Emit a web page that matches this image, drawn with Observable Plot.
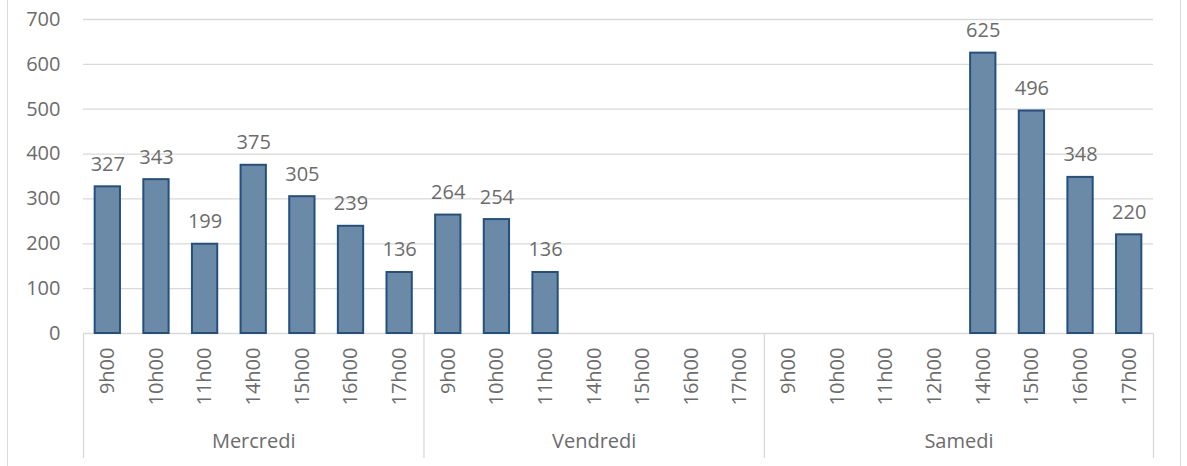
<!DOCTYPE html>
<html>
<head>
<meta charset="utf-8">
<script src="https://cdn.jsdelivr.net/npm/d3@7"></script>
<script src="https://cdn.jsdelivr.net/npm/@observablehq/plot@0.6"></script>
<style>
  html, body { margin: 0; padding: 0; background: #fff; }
  #frame { position: relative; width: 1187px; height: 466px; overflow: hidden; }
  #frame .edge { position: absolute; top: 0; bottom: 0; width: 0; border-left: 1px solid #d9d9d9; }
  #frame svg { position: absolute; left: 0; top: 0; overflow: visible; }
</style>
</head>
<body>
<div id="frame">
  <div class="edge" style="left:7px"></div>
  <div class="edge" style="left:1180px"></div>
</div>
<script>
// ---- data ----
const days = ["Mercredi", "Vendredi", "Samedi"];
const hoursMercredi = ["9h00", "10h00", "11h00", "14h00", "15h00", "16h00", "17h00"];
const valuesMercredi = [327, 343, 199, 375, 305, 239, 136];
const hoursVendredi = ["9h00", "10h00", "11h00", "14h00", "15h00", "16h00", "17h00"];
const valuesVendredi = [264, 254, 136, null, null, null, null];
const hoursSamedi = ["9h00", "10h00", "11h00", "12h00", "14h00", "15h00", "16h00", "17h00"];
const valuesSamedi = [null, null, null, null, 625, 496, 348, 220];
const yTicks = [0, 100, 200, 300, 400, 500, 600, 700];

// ---- build table ----
const hoursByDay = [hoursMercredi, hoursVendredi, hoursSamedi];
const valuesByDay = [valuesMercredi, valuesVendredi, valuesSamedi];
const rows = [];
days.forEach((day, di) => {
  hoursByDay[di].forEach((h, hi) => {
    rows.push({ key: day + "|" + h, day, hour: h, value: valuesByDay[di][hi] });
  });
});
const keys = rows.map(d => d.key);
const withValue = rows.filter(d => d.value != null);

// ---- layout ----
const W = 1187, H = 466;
const mL = 83, mR = 34, mT = 19, mB = 133;
const step = (W - mL - mR) / keys.length;
const grey = "#d9d9d9";
const txt = "#6c6c6c";
const font = "'Open Sans', 'Noto Sans', sans-serif";

const firstKeys = days.map(day => rows.find(r => r.day === day).key);
const lastKey = keys[keys.length - 1];

// group label marks (centred on each group's span)
const groupMarks = days.map(day => {
  const ks = rows.filter(r => r.day === day).map(r => r.key);
  const mid = Math.floor((ks.length - 1) / 2);
  const off = ks.length % 2 === 0 ? step / 2 : 0;
  return Plot.text([day], {
    x: () => ks[mid], text: d => d, frameAnchor: "bottom",
    dy: 114, dx: off, fill: txt, fontSize: 20
  });
});

const chart = Plot.plot({
  width: W, height: H,
  marginLeft: mL, marginRight: mR, marginTop: mT, marginBottom: mB,
  style: { fontFamily: font, background: "transparent", overflow: "visible" },
  x: { domain: keys, paddingInner: 0.48, paddingOuter: 0.24, round: false, label: null },
  y: { domain: [0, 700], label: null },
  marks: [
    Plot.ruleY(yTicks, { y: d => d, stroke: grey, strokeWidth: 1.3 }),
    Plot.barY(withValue, {
      x: "key", y: "value",
      fill: "#6a8aa8", stroke: "#24507e", strokeWidth: 2
    }),
    Plot.text(withValue, {
      x: "key", y: "value", text: d => String(d.value),
      lineAnchor: "bottom", dy: -16, fill: txt, fontSize: 20
    }),
    Plot.axisY({
      ticks: yTicks, tickSize: 0, tickPadding: 23, fontSize: 20,
      fill: txt, label: null
    }),
    Plot.axisX({
      tickRotate: -90, tickSize: 0, tickPadding: 14, fontSize: 20,
      fill: txt, label: null, tickFormat: k => k.split("|")[1]
    }),
    Plot.ruleX(firstKeys, {
      x: d => d, dx: -step / 2, insetTop: H - mT - mB, insetBottom: -125,
      stroke: grey, strokeWidth: 1.3
    }),
    Plot.ruleX([lastKey], {
      x: d => d, dx: step / 2, insetTop: H - mT - mB, insetBottom: -125,
      stroke: grey, strokeWidth: 1.3
    }),
    ...groupMarks
  ]
});
document.getElementById("frame").appendChild(chart);
</script>
</body>
</html>
